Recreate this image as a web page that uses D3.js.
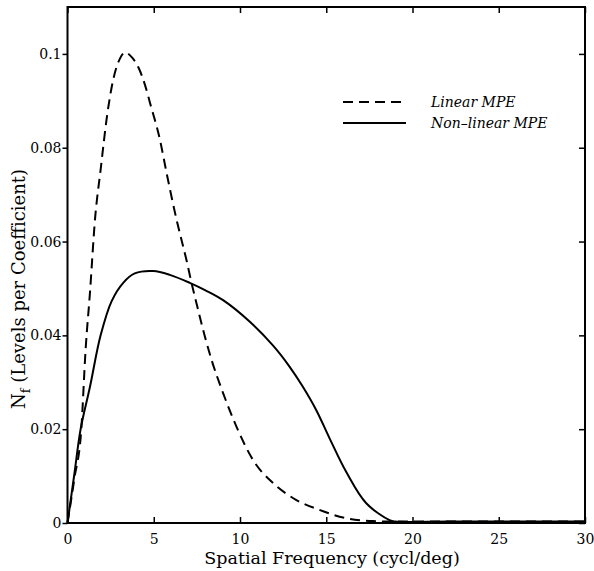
<!DOCTYPE html>
<html>
<head>
<meta charset="utf-8">
<script src="https://cdn.jsdelivr.net/npm/d3@7"></script>
<style>
  html, body { margin: 0; padding: 0; background: #fff; }
  svg { display: block; }
  text { font-family: "DejaVu Serif", serif; fill: #000; }
</style>
</head>
<body>
<svg id="chart" width="594" height="571"></svg>
<script>
// ---- Data ----
const linearX = [0, 0.4, 0.8, 1.05, 1.3, 1.6, 1.92, 2.3, 2.65, 3.04, 3.33, 3.75, 4.1, 4.5, 4.78, 5.36, 5.74, 6.32, 6.9, 7.19, 7.48, 7.96, 8.35, 9.02, 9.8, 10.76, 11.92, 13.27, 14.6, 16.17, 17.7, 19, 22, 25, 28, 30];
const linearY = [0, 0.0095, 0.02, 0.037, 0.049, 0.065, 0.0753, 0.087, 0.0945, 0.099, 0.1003, 0.0992, 0.0972, 0.0933, 0.0896, 0.0817, 0.0747, 0.0647, 0.056, 0.0512, 0.0468, 0.0398, 0.0348, 0.0277, 0.0205, 0.0134, 0.0085, 0.0049, 0.0028, 0.001, 0.0004, 0.0003, 0.0003, 0.0003, 0.0003, 0.0003];

const nonlinX = [0, 0.4, 0.76, 1.3, 1.92, 2.56, 3.23, 3.9, 4.97, 5.93, 7.09, 8.0, 9.02, 10.57, 11.92, 12.88, 13.6, 14.43, 15.2, 16.17, 17.32, 18.67, 19, 22, 25, 28, 30];
const nonlinY = [0, 0.0105, 0.02, 0.029, 0.04, 0.0473, 0.0512, 0.0532, 0.0537, 0.0529, 0.0512, 0.0496, 0.0475, 0.0429, 0.0378, 0.0333, 0.0293, 0.0240, 0.018, 0.0108, 0.0042, 0.0006, 0.0003, 0.0003, 0.0003, 0.0003, 0.0003];

const xTicks = [0, 5, 10, 15, 20, 25, 30];
const yTicks = [0, 0.02, 0.04, 0.06, 0.08, 0.1];
const yTickLabels = ["0", "0.02", "0.04", "0.06", "0.08", "0.1"];
const seriesNames = ["Linear MPE", "Non\u2013linear MPE"];

// ---- Layout ----
const svg = d3.select("#chart");
const L = 67.5, R = 585, T = 7, B = 523;
const x = d3.scaleLinear().domain([0, 30]).range([L, R]);
const y = d3.scaleLinear().domain([0, 0.11]).range([B, T]);

// curves
const lineGen = d3.line().x(d => x(d[0])).y(d => y(d[1])).curve(d3.curveMonotoneX);
const smoothGen = d3.line().x(d => x(d[0])).y(d => y(d[1])).curve(d3.curveCatmullRom.alpha(0.5));
const linearData = linearX.map((v, i) => [v, linearY[i]]);
const nonlinData = nonlinX.map((v, i) => [v, nonlinY[i]]);

svg.append("path").datum(linearData).attr("d", lineGen)
  .attr("fill", "none").attr("stroke", "#000").attr("stroke-width", 2)
  .attr("stroke-dasharray", "10,6");
svg.append("path").datum(nonlinData).attr("d", smoothGen)
  .attr("fill", "none").attr("stroke", "#000").attr("stroke-width", 2);

// frame
svg.append("rect").attr("x", L).attr("y", T).attr("width", R - L).attr("height", B - T)
  .attr("fill", "none").attr("stroke", "#000").attr("stroke-width", 2);

// bottom axis (ticks inward)
const xb = svg.append("g").attr("transform", `translate(0,${B})`)
  .call(d3.axisBottom(x).tickValues(xTicks).tickSizeInner(-6).tickSizeOuter(0).tickPadding(11).tickFormat(d3.format("d")));
xb.select(".domain").remove();
xb.selectAll("line").attr("stroke-width", 1.5);
xb.selectAll("text").attr("font-size", 14).attr("font-family", "DejaVu Serif");

// top ticks (inward)
const xt = svg.append("g").attr("transform", `translate(0,${T})`)
  .call(d3.axisTop(x).tickValues(xTicks).tickSizeInner(-6).tickSizeOuter(0).tickFormat(""));
xt.select(".domain").remove();
xt.selectAll("line").attr("stroke-width", 1.5);

// left axis (ticks outward)
const yl = svg.append("g").attr("transform", `translate(${L},0)`)
  .call(d3.axisLeft(y).tickValues(yTicks).tickSizeInner(5).tickSizeOuter(0).tickPadding(1)
    .tickFormat((d, i) => yTickLabels[i]));
yl.select(".domain").remove();
yl.selectAll("line").attr("stroke-width", 1.5);
yl.selectAll("text").attr("font-size", 14).attr("font-family", "DejaVu Serif");

// right ticks (inward)
const yr = svg.append("g").attr("transform", `translate(${R},0)`)
  .call(d3.axisRight(y).tickValues(yTicks).tickSizeInner(-6).tickSizeOuter(0).tickFormat(""));
yr.select(".domain").remove();
yr.selectAll("line").attr("stroke-width", 1.5);

// x label
svg.append("text").attr("x", 332).attr("y", 564).attr("text-anchor", "middle")
  .attr("font-size", 17.5).text("Spatial Frequency (cycl/deg)");

// y label
const yl2 = svg.append("text").attr("transform", "translate(25,289) rotate(-90)")
  .attr("text-anchor", "middle").attr("font-size", 18);
yl2.append("tspan").text("N");
yl2.append("tspan").attr("font-size", 13).attr("dy", 5).text("f");
yl2.append("tspan").attr("dy", -5).text(" (Levels per Coefficient)");

// legend
const legY = [102, 123];
const legDash = ["10,6", null];
seriesNames.forEach((name, i) => {
  svg.append("line").attr("x1", 343).attr("x2", 406).attr("y1", legY[i]).attr("y2", legY[i])
    .attr("stroke", "#000").attr("stroke-width", 2)
    .attr("stroke-dasharray", legDash[i]);
  svg.append("text").attr("x", 431).attr("y", legY[i] + 5).attr("font-size", 14)
    .attr("font-style", "italic").text(name);
});
</script>
</body>
</html>
